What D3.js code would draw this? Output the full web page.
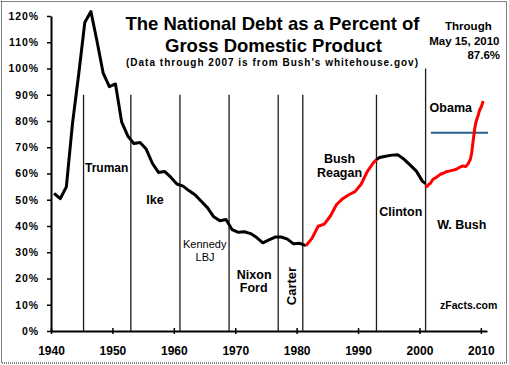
<!DOCTYPE html>
<html>
<head>
<meta charset="utf-8">
<script src="https://cdn.jsdelivr.net/npm/d3@7/dist/d3.min.js"></script>
<style>
	body { margin:0; background:#fff; }
</style>
</head>
<body>
<div id="chart"></div>
<script>
	var FontFamily = "Arial, 'Liberation Sans', Helvetica, sans-serif";

	// Debt / GDP (%), plotted at mid fiscal year
	var years_truman = [1940.5,1941.5,1942.5,1943.5,1944.5,1945.5,1946.5,1947.5,1948.5,1949.5,
		1950.5,1951.5,1952.5,1953.5,1954.5,1955.5,1956.5,1957.5,1958.5,1959.5,
		1960.5,1961.5,1962.5,1963.5,1964.5,1965.5,1966.5,1967.5,1968.5,1969.5,
		1970.5,1971.5,1972.5,1973.5,1974.5,1975.5,1976.5,1977.5,1978.5,1979.5,
		1980.5,1981.5];
	var debt_truman = [52.4,50.4,54.9,79.1,97.6,117.5,121.7,110.3,98.2,93.1,
		94.1,79.7,74.3,71.4,71.8,69.3,63.9,60.4,60.8,58.6,
		56.0,55.2,53.4,51.8,49.3,46.9,43.5,42.0,42.5,38.6,
		37.6,37.8,37.1,35.6,33.6,34.7,35.8,35.8,35.0,33.2,
		33.4,32.5];

	var years_reagan = [1981.5,1982.5,1983.5,1984.5,1985.5,1986.5,1987.5,1988.5,1989.5,1990.5,1991.5,1992.5,1993.0];
	var debt_reagan = [32.5,35.3,39.9,40.7,43.8,48.2,50.4,51.9,53.1,55.9,60.7,64.1,65.3];

	var years_clinton = [1993.0,1993.5,1994.5,1995.5,1996.5,1997.5,1998.5,1999.5,2000.5,2001.0];
	var debt_clinton = [65.3,66.1,66.6,67.0,67.1,65.4,63.2,60.9,57.0,56.2];

	var years_bush = [2001.0,2001.2,2001.5,2001.8,2002.2,2002.6,2003.0,2003.5,2003.9,2004.4,
		2005.0,2005.5,2006.0,2006.5,2007.1,2007.5,2007.9,2008.3,2008.5,2008.7,
		2008.9,2009.1,2009.3,2009.6,2009.8,2010.1,2010.37];
	var debt_bush = [55.6,55.0,55.8,56.3,57.8,58.3,59.0,59.8,60.1,60.7,
		61.0,61.3,61.6,62.3,62.9,62.6,63.6,65.5,67.8,71.5,
		75.4,78.5,80.4,82.5,84.2,85.5,87.6];

	// presidential terms
	var term_starts = [1945.3, 1953, 1961, 1969, 1977, 1981, 1993, 2001];
	var term_tops = [90, 90, 90, 90, 90, 90, 90, 100];

	// blue reference level
	var blue_level = 75.5;
	var blue_from = 2001.85, blue_to = 2011.15;

	var x_ticks = [1940, 1950, 1960, 1970, 1980, 1990, 2000, 2010];
	var y_ticks = [0, 10, 20, 30, 40, 50, 60, 70, 80, 90, 100, 110, 120];

	/* =========================================
	 *
	 *  SVG, fond et cadre pointillé
	 *
	 *  ======================================== */
	var svg = d3.select("#chart")
		.append("svg")
		.attr("width", 509)
		.attr("height", 365)
		.style("font-family", FontFamily)

	svg.append("rect")
		.attr("width", 509)
		.attr("height", 365)
		.attr("fill", "#fff")

	svg.append("rect")
		.attr("x", 1.5)
		.attr("y", 1.5)
		.attr("width", 505)
		.attr("height", 361.5)
		.attr("fill", "none")
		.attr("stroke", "#000")
		.attr("stroke-dasharray", "1,1")

	var x = d3.scaleLinear().domain([1940, 2011]).range([51, 487]);
	var y = d3.scaleLinear().domain([0, 120]).range([331, 16]);

	/* =========================================
	 *
	 *  Axes
	 *
	 *  ======================================== */
	var yAxis = svg.append("g")
		.attr("transform", "translate(51,0)")
		.call(d3.axisLeft(y).tickValues(y_ticks).tickSize(4).tickSizeOuter(0).tickPadding(8)
			.tickFormat(function(d){ return d + "%"; }))

	yAxis.select(".domain").attr("stroke", "#000").attr("stroke-width", 2)
	yAxis.selectAll(".tick line").attr("stroke", "#000").attr("stroke-width", 1.5)
	yAxis.selectAll("text")
		.attr("font-family", FontFamily)
		.attr("font-size", 10.5)
		.attr("font-weight", "bold")
		.attr("letter-spacing", 0.9)
		.attr("fill", "#000")

	var xAxis = svg.append("g")
		.attr("transform", "translate(0,331)")
		.call(d3.axisBottom(x).tickValues(x_ticks).tickSize(3).tickSizeOuter(0)
			.tickFormat(d3.format("d")))

	xAxis.select(".domain").attr("stroke", "#000").attr("stroke-width", 2)
	xAxis.selectAll(".tick line").attr("y1", -3).attr("y2", 3).attr("stroke", "#000").attr("stroke-width", 1.5)
	xAxis.selectAll("text")
		.attr("y", 23.5)
		.attr("dy", 0)
		.attr("font-family", FontFamily)
		.attr("font-size", 12)
		.attr("font-weight", "bold")
		.attr("fill", "#000")

	/* =========================================
	 *
	 *  Lignes verticales des mandats
	 *
	 *  ======================================== */
	svg.append("g")
		.selectAll("line")
		.data(term_starts)
		.enter()
		.append("line")
		.attr("x1", function(d){ return x(d); })
		.attr("x2", function(d){ return x(d); })
		.attr("y1", function(d, i){ return y(term_tops[i]); })
		.attr("y2", y(0))
		.attr("stroke", "#1a1a1a")
		.attr("stroke-width", 1.3)

	// ligne bleue
	svg.append("line")
		.attr("x1", x(blue_from))
		.attr("x2", x(blue_to))
		.attr("y1", y(blue_level))
		.attr("y2", y(blue_level))
		.attr("stroke", "#2a5d92")
		.attr("stroke-width", 2)

	/* =========================================
	 *
	 *  Séries
	 *
	 *  ======================================== */
	var line = d3.line()
		.x(function(d){ return x(d[0]); })
		.y(function(d){ return y(d[1]); })

	var series = [
		{years: years_truman, debt: debt_truman, color: "#000"},
		{years: years_reagan, debt: debt_reagan, color: "#ff0000"},
		{years: years_clinton, debt: debt_clinton, color: "#000"},
		{years: years_bush, debt: debt_bush, color: "#ff0000"}
	];

	svg.append("g")
		.selectAll("path")
		.data(series)
		.enter()
		.append("path")
		.attr("d", function(s){ return line(d3.zip(s.years, s.debt)); })
		.attr("fill", "none")
		.attr("stroke", function(s){ return s.color; })
		.attr("stroke-width", 3)
		.attr("stroke-linejoin", "round")

	/* =========================================
	 *
	 *  Titres et étiquettes
	 *
	 *  ======================================== */
	function label(txt, px, py, size, weight, anchor) {
		return svg.append("text")
			.attr("x", px)
			.attr("y", py)
			.attr("text-anchor", anchor || "middle")
			.attr("font-size", size)
			.attr("font-weight", weight || "bold")
			.attr("fill", "#000")
			.text(txt)
	}

	label("The National Debt as a Percent of", 272.5, 29.5, 18.5)
	label("Gross Domestic Product", 273.5, 52, 18.5)
	label("(Data through 2007 is from Bush's whitehouse.gov)", 272, 65.5, 10)
		.attr("textLength", 292)
		.attr("lengthAdjust", "spacing")

	label("Through", 491.7, 30, 11.5, "bold", "end")
	label("May 15, 2010", 499.5, 44.5, 11.5, "bold", "end")
	label("87.6%", 500, 59, 11.5, "bold", "end")

	label("Truman", 106.7, 171.5, 12)
	label("Ike", 155, 203.5, 12.5)
	label("Kennedy", 204.7, 247.5, 11, "normal")
	label("LBJ", 205, 260.5, 11, "normal")
	label("Nixon", 254.2, 278.5, 12.5)
	label("Ford", 253.7, 291.7, 12.5)
	label("Carter", 0, 0, 13)
		.attr("transform", "translate(296,286) rotate(-90)")
	label("Bush", 339.5, 162.5, 12.5)
	label("Reagan", 339.5, 177, 12.5)
	label("Clinton", 400.8, 215.5, 12.5)
	label("W. Bush", 461.8, 229, 12.5)
	label("Obama", 450.8, 111.5, 12.5)
	label("zFacts.com", 468.7, 309, 10.5)
</script>
</body>
</html>
